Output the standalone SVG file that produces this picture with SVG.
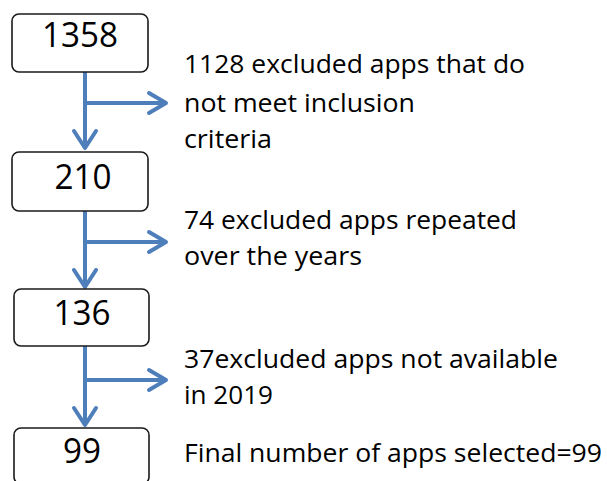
<svg xmlns="http://www.w3.org/2000/svg" width="607" height="481" viewBox="0 0 607 481">
  <defs>
    <style>
      .box rect { fill: #ffffff; stroke: #1a1a1a; stroke-width: 1.6; }
      .num { font-family: "Open Sans", "Liberation Sans", sans-serif; font-size: 34px; fill: #000; text-anchor: middle; }
      .lbl { font-family: "Open Sans", "Liberation Sans", sans-serif; font-size: 26px; fill: #000; }
      .flow { fill: none; stroke: #4f7fba; stroke-width: 4; stroke-linecap: round; stroke-linejoin: round; }
    </style>
  </defs>
  <rect width="607" height="481" fill="#ffffff"/>

  <!-- Flow connectors: trunk arrows between boxes, side arrows to the exclusion notes -->
  <g id="connectors">
    <path class="flow" d="M85 72 V147 M74 131 L85 148 L96 131"/>
    <path class="flow" d="M85 103 H165 M149 93 L166 103 L149 113"/>
    <path class="flow" d="M85 211 V286 M74 270 L85 287 L96 270"/>
    <path class="flow" d="M85 242 H165 M149 232 L166 242 L149 252"/>
    <path class="flow" d="M85 346 V424 M74 408 L85 425 L96 408"/>
    <path class="flow" d="M85 380 H165 M149 370 L166 380 L149 390"/>
  </g>

  <g id="node-1358" class="box">
    <rect x="12" y="14" width="136" height="58" rx="7"/>
    <text class="num" x="80" y="47" textLength="76" lengthAdjust="spacingAndGlyphs">1358</text>
  </g>
  <g id="node-210" class="box">
    <rect x="12" y="152" width="136" height="59" rx="7"/>
    <text class="num" x="83" y="189" textLength="57" lengthAdjust="spacingAndGlyphs">210</text>
  </g>
  <g id="node-136" class="box">
    <rect x="14" y="289" width="135" height="57" rx="7"/>
    <text class="num" x="82" y="325" textLength="57" lengthAdjust="spacingAndGlyphs">136</text>
  </g>
  <g id="node-99" class="box">
    <rect x="14" y="428" width="135" height="56" rx="7"/>
    <text class="num" x="82" y="463" textLength="38" lengthAdjust="spacingAndGlyphs">99</text>
  </g>

  <g id="label-1">
    <text class="lbl" x="184" y="73" textLength="341" lengthAdjust="spacingAndGlyphs">1128 excluded apps that do</text>
    <text class="lbl" x="184" y="112" textLength="231" lengthAdjust="spacingAndGlyphs">not meet inclusion</text>
    <text class="lbl" x="184" y="148" textLength="88" lengthAdjust="spacingAndGlyphs">criteria</text>
  </g>
  <g id="label-2">
    <text class="lbl" x="184" y="229" textLength="333" lengthAdjust="spacingAndGlyphs">74 excluded apps repeated</text>
    <text class="lbl" x="184" y="265" textLength="178" lengthAdjust="spacingAndGlyphs">over the years</text>
  </g>
  <g id="label-3">
    <text class="lbl" x="184" y="368" textLength="374" lengthAdjust="spacingAndGlyphs">37excluded apps not available</text>
    <text class="lbl" x="184" y="404" textLength="89" lengthAdjust="spacingAndGlyphs">in 2019</text>
  </g>
  <g id="label-4">
    <text class="lbl" x="184" y="462" textLength="418" lengthAdjust="spacingAndGlyphs">Final number of apps selected=99</text>
  </g>
</svg>
